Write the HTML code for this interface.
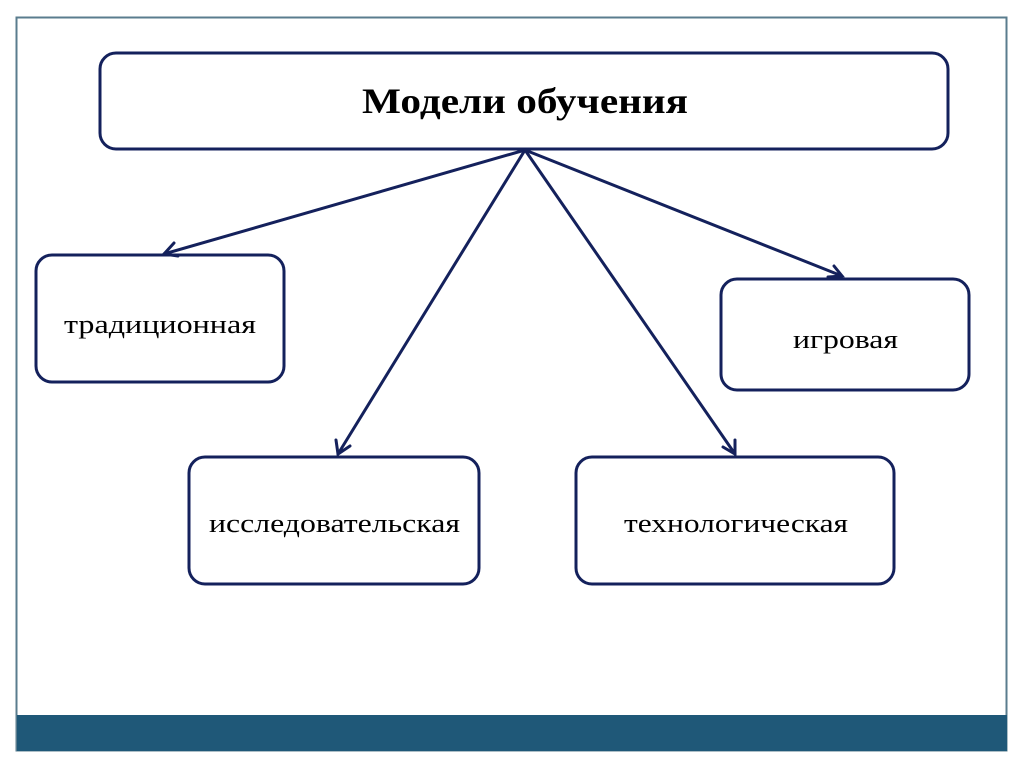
<!DOCTYPE html>
<html><head><meta charset="utf-8"><style>
html,body{margin:0;padding:0;background:#fff;}
svg{display:block;}
text{font-family:"Liberation Serif","DejaVu Serif",serif;fill:#000;}
</style></head><body>
<svg width="1024" height="768" viewBox="0 0 1024 768">
<rect x="16.5" y="17.5" width="990" height="733" fill="#fff" stroke="#5a7c8e" stroke-width="2"/>
<rect x="17" y="715" width="990" height="36" fill="#1f5878"/>
<g fill="#fff" stroke="#14215c" stroke-width="3">
<rect x="100" y="53" width="848" height="96" rx="16"/>
<rect x="36" y="255" width="248" height="127" rx="16"/>
<rect x="721" y="279" width="248" height="111" rx="16"/>
<rect x="189" y="457" width="290" height="127" rx="16"/>
<rect x="576" y="457" width="318" height="127" rx="16"/>
</g>
<g stroke="#14215c" stroke-width="3" fill="none" stroke-linecap="round">
<line x1="525" y1="150" x2="164" y2="254"/>
<polyline points="174,243 164,254 178,256"/>
<line x1="525" y1="150" x2="338" y2="454"/>
<polyline points="336,440 338,454 350,446"/>
<line x1="525" y1="150" x2="735" y2="454"/>
<polyline points="723,447 735,454 735,440"/>
<line x1="525" y1="150" x2="842" y2="276"/>
<polyline points="828,277 842,276 834,266"/>
</g>
<text x="362" y="113" font-size="36" font-weight="bold" textLength="326" lengthAdjust="spacingAndGlyphs">Модели обучения</text>
<text x="64" y="333" font-size="26" textLength="192" lengthAdjust="spacingAndGlyphs">традиционная</text>
<text x="793" y="348" font-size="26" textLength="105" lengthAdjust="spacingAndGlyphs">игровая</text>
<text x="209" y="532" font-size="26" textLength="251" lengthAdjust="spacingAndGlyphs">исследовательская</text>
<text x="624" y="532" font-size="26" textLength="224" lengthAdjust="spacingAndGlyphs">технологическая</text>
</svg>
</body></html>
